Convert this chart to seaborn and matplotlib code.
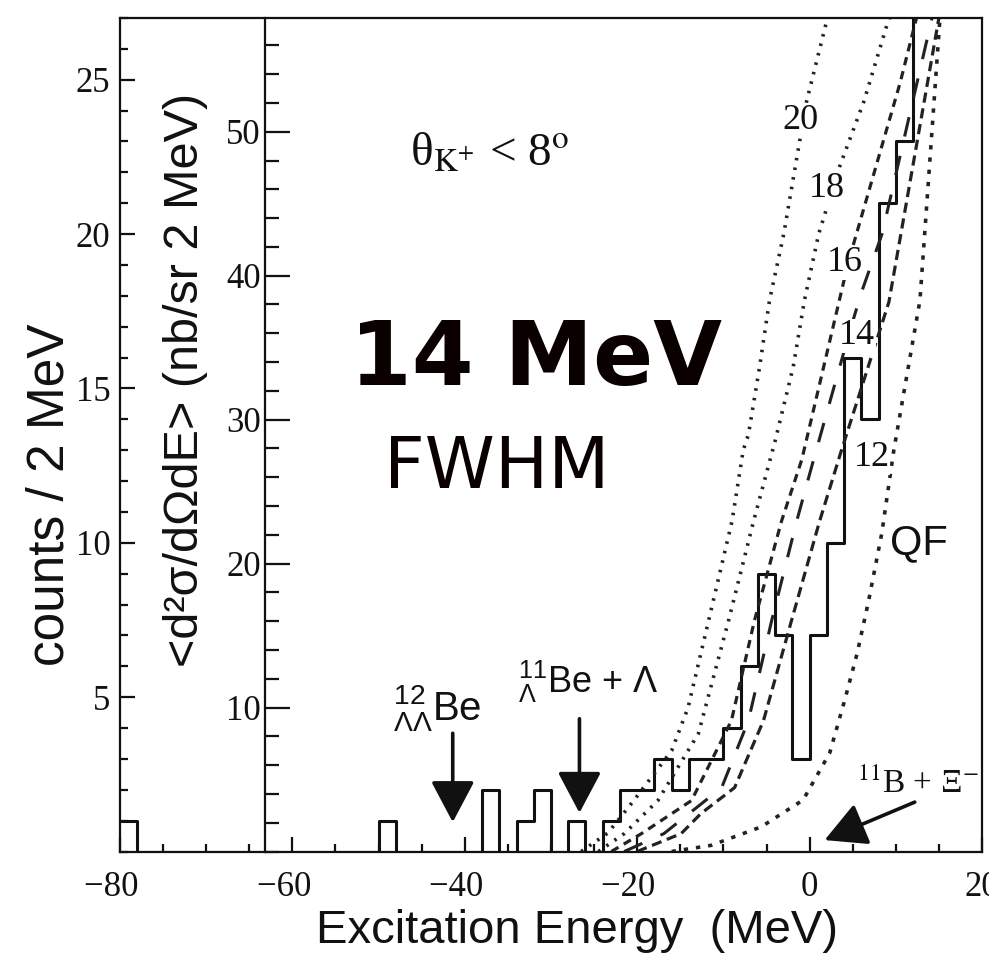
import numpy as np
import pandas as pd
import matplotlib
matplotlib.use("Agg")
import matplotlib.pyplot as plt
import seaborn as sns

# ---------------- data ----------------
bin_left = list(range(-80, 14, 2))          # 2 MeV bins, -80 ... 12
counts = [1, 0, 0, 0, 0, 0, 0, 0, 0, 0, 0, 0, 0, 0, 0,   # -80 .. -52
          1, 0, 0, 0, 0, 0,                              # -50 .. -40
          2, 0, 1, 2, 0, 1, 0,                           # -38 .. -26
          1, 2, 2, 3, 2, 3, 3, 4, 6, 9, 7, 3, 7, 10, 16, 14, 21, 23, 30]  # -24 .. 12

c20_E = [-26.5, -23.4, -20.4, -16.0, -14.1, -11.7, -9.0, -7.7, -7.1, -5.8, -4.65, -3.0, -1.16, -0.35, 1.98, 3.0]
c20_c = [0, 0.6, 1.65, 3.27, 4.66, 7.5, 10.7, 13.0, 13.5, 15.7, 17.85, 20.0, 23.0, 24.3, 26.9, 28.2]
c18_E = [-24.5, -21.5, -17.6, -12.9, -9.4, -6.5, -4.0, -1.9, -0.6, 1.05, 3.5, 6.3, 9.0, 10.0]
c18_c = [0, 0.58, 1.65, 3.82, 7.48, 10.7, 13.3, 15.7, 17.85, 20.0, 22.2, 24.3, 26.8, 27.6]
c16_E = [-23.0, -19.5, -13.7, -9.07, -6.4, -3.26, -0.9, 4.5, 10.5, 12.4, 13.5]
c16_c = [0, 0.58, 1.65, 4.24, 7.48, 10.7, 12.7, 19.1, 24.9, 27.0, 28.0]
c14_E = [-21.5, -16.9, -10.2, -7.1, -4.4, -1.5, 0.47, 4.5, 6.0, 8.4, 14.2, 15.0]
c14_c = [0, 0.58, 2.07, 4.24, 7.48, 10.7, 12.7, 16.7, 18.1, 20.0, 27.0, 28.0]
c12_E = [-20.0, -14.9, -12.6, -8.7, -5.35, -2.1, 1.16, 3.7, 9.2, 15.0, 15.8]
c12_c = [0, 0.58, 1.23, 2.07, 4.24, 7.48, 10.7, 13.0, 17.8, 27.0, 28.0]
qf_E = [-16.0, -11.4, -5.6, -0.75, 2.33, 4.07, 5.5, 6.86, 8.37, 9.77, 12.8, 15.1, 15.6]
qf_c = [0, 0.2, 0.8, 1.67, 3.19, 4.9, 6.4, 8.14, 10.3, 13.0, 17.85, 26.9, 28.5]

curve_labels = ["20", "18", "16", "14", "12"]
label_E = [-1.05, 1.98, 4.07, 5.47, 7.2]
label_c = [23.67, 21.47, 19.07, 16.7, 12.77]

x_ticks = [-80, -60, -40, -20, 0, 20]
x_ticklabels = ["\u221280\u2002", "\u221260\u2002", "\u221240\u2002", "\u221220\u2002", "0", "20"]
counts_ticks = [5, 10, 15, 20, 25]
xsec_ticks = [10, 20, 30, 40, 50]

arrow_E = [-41.4, -26.7]      # 12_LL Be and 11_L Be + L thresholds
xi_E = 1.74                   # 11B + Xi- threshold

# ---------------- style ----------------
sns.set_style("ticks")
plt.rcParams["font.family"] = ["Liberation Sans", "DejaVu Sans"]
plt.rcParams["mathtext.fontset"] = "custom"
plt.rcParams["mathtext.rm"] = "Liberation Sans"
plt.rcParams["mathtext.it"] = "Liberation Sans:italic"
plt.rcParams["mathtext.bf"] = "Liberation Sans:bold"
plt.rcParams["axes.linewidth"] = 1.6
plt.rcParams["axes.edgecolor"] = "#111111"

W, H = 989, 955
fig = plt.figure(figsize=(W / 100, H / 100), dpi=100)
L, R, T, B = 120, 982, 18, 851.5
ax = fig.add_axes([L / W, 1 - B / H, (R - L) / W, (B - T) / H])
ax.set_facecolor("white")

# histogram
edges = [float(b) for b in bin_left] + [float(bin_left[-1] + 2)]
hist_df = pd.DataFrame({"E": [b + 1.0 for b in bin_left], "n": [float(v) for v in counts]})
sns.histplot(data=hist_df, x="E", weights="n", bins=edges, element="step",
             fill=False, color="#111111", linewidth=2.2, ax=ax)

# model curves
sty = dict(color="#222222", estimator=None, sort=False, ax=ax)
sns.lineplot(x=c20_E, y=c20_c, linestyle=(0, (0.7, 2.0)), linewidth=2.6, **sty)
sns.lineplot(x=c18_E, y=c18_c, linestyle=(0, (0.7, 2.0)), linewidth=2.6, **sty)
sns.lineplot(x=c16_E, y=c16_c, linestyle=(0, (2.6, 1.9)), linewidth=2.3, **sty)
sns.lineplot(x=c14_E, y=c14_c, linestyle=(0, (6.5, 6.5)), linewidth=2.2, **sty)
sns.lineplot(x=c12_E, y=c12_c, linestyle=(0, (3.2, 1.8)), linewidth=2.3, **sty)
sns.lineplot(x=qf_E, y=qf_c, linestyle=(0, (1.2, 2.2)), linewidth=2.6, **sty)

ax.set_xlim(-80, 20)
ax.set_ylim(0, 27)
ax.set_xlabel("")
ax.set_ylabel("")
ax.set_xticks(x_ticks)
ax.set_xticklabels(x_ticklabels)
ax.set_xticks(np.arange(-80, 21, 5), minor=True)
ax.set_yticks(counts_ticks)
ax.set_yticks(np.arange(0, 28, 1), minor=True)
ax.tick_params(which="both", direction="in", top=False, right=False,
               width=1.6, color="#111111")
ax.tick_params(which="major", length=11, labelsize=25,
               labelfontfamily="Liberation Serif", labelcolor="#111111")
ax.tick_params(axis="x", which="major", pad=14)
ax.tick_params(axis="y", which="major", pad=7)
ax.tick_params(which="minor", length=5.5)
for s in ax.spines.values():
    s.set_visible(True)

# inner cross-section axis
IL = 265
ax2 = fig.add_axes([IL / W, 1 - B / H, (R - IL) / W, (B - T) / H])
ax2.patch.set_visible(False)
for k in ["top", "right", "bottom"]:
    ax2.spines[k].set_visible(False)
ax2.set_ylim(0, 57.9)
ax2.set_xticks([])
ax2.set_yticks(xsec_ticks)
ax2.set_yticks(np.arange(0, 58, 2), minor=True)
ax2.tick_params(axis="y", which="both", direction="in", width=1.6, color="#111111")
ax2.tick_params(axis="y", which="major", length=18, labelsize=25, pad=3,
                labelfontfamily="Liberation Serif", labelcolor="#111111")
ax2.tick_params(axis="y", which="minor", length=10)

# axis titles
fig.text(577 / W, 1 - 931 / H, "Excitation Energy  (MeV)", ha="center", va="center",
         fontsize=34, color="#111111")
fig.text(50 / W, 1 - 495 / H, "counts / 2 MeV", ha="center", va="center",
         rotation=90, fontsize=37, color="#111111")
fig.text(186 / W, 1 - 380 / H, "<d²σ/dΩdE> (nb/sr 2 MeV)", ha="center", va="center",
         rotation=90, fontsize=35, color="#111111")

# texts in plot
ax.text(-46.3, 22.2, "θ$_{\\mathrm{K}^{+}}$ < 8$^{\\mathrm{o}}$", fontsize=34,
        family="Liberation Serif", math_fontfamily="stix",
        ha="left", va="baseline", color="#111111")
ax.text(-53.3, 15.1, "14 MeV", fontsize=64, fontweight="bold", family="DejaVu Sans",
        ha="left", va="baseline", color="#0a0000")
ax.text(-49.4, 11.76, "FWHM", fontsize=51, family="DejaVu Sans",
        ha="left", va="baseline", color="#0a0000")

for lab, e, c in zip(curve_labels, label_E, label_c):
    ax.text(e, c, lab, fontsize=26, family="Liberation Serif", ha="center", va="center",
            color="#111111",
            bbox=dict(boxstyle="square,pad=0.02", fc="white", ec="none"))
ax.text(12.7, 10.0, "QF", fontsize=30, ha="center", va="center", color="#111111")

# threshold annotations
ax.text(-48.3, 4.26, r"$^{12}_{\Lambda\Lambda}$Be", fontsize=29, ha="left",
        va="baseline", color="#111111")
ax.text(-33.8, 5.13, r"$^{11}_{\Lambda}$Be + Λ", fontsize=26, ha="left",
        va="baseline", color="#111111")
ax.text(5.47, 1.89, "$^{11}$B + Ξ$^{-}$", fontsize=24, family="Liberation Serif",
        math_fontfamily="stix", ha="left", va="baseline", color="#111111")

aprops = dict(arrowstyle="-|>,head_length=0.85,head_width=0.45", mutation_scale=30,
              lw=2.6, color="#111111", shrinkA=0, shrinkB=0)
ax.annotate("", xy=(arrow_E[0], 0.95), xytext=(arrow_E[0], 3.83), arrowprops=aprops)
ax.annotate("", xy=(arrow_E[1], 1.25), xytext=(arrow_E[1], 4.3), arrowprops=aprops)
ax.annotate("", xy=(xi_E, 0.37), xytext=(12.2, 1.6), arrowprops=aprops)

fig.savefig("out.png", dpi=100, facecolor="white")
